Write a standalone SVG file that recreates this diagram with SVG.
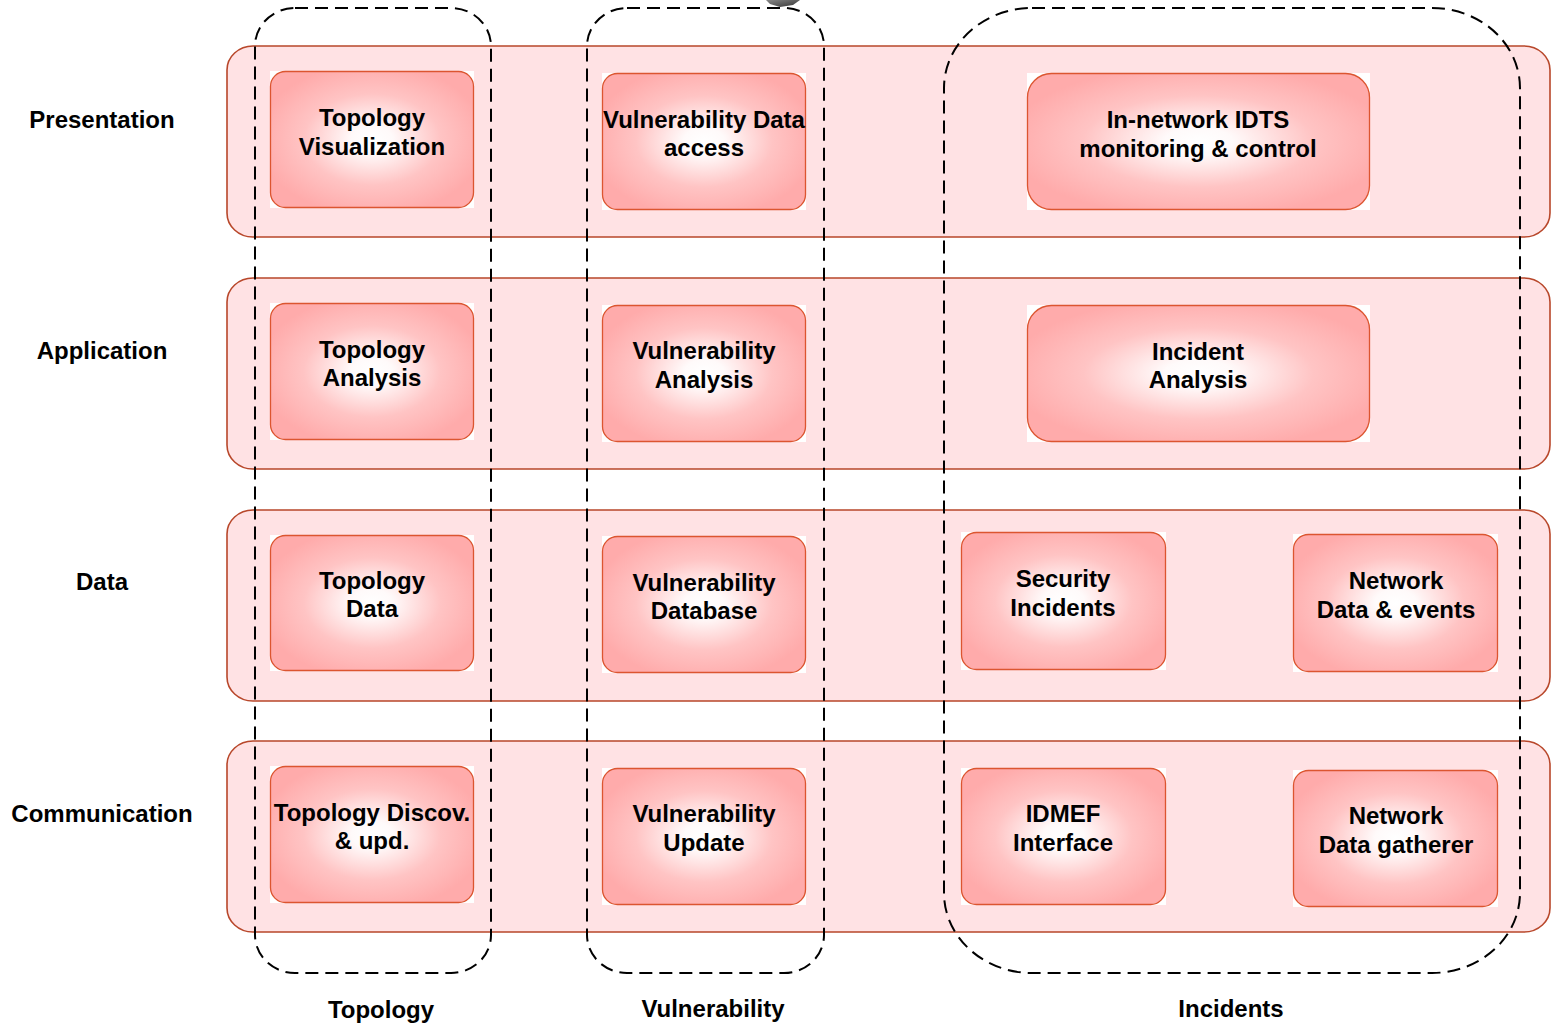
<svg xmlns="http://www.w3.org/2000/svg" width="1551" height="1023" viewBox="0 0 1551 1023">
<defs>
<radialGradient id="ng" cx="0.5" cy="0.5" r="0.56">
<stop offset="0" stop-color="#ffffff"/>
<stop offset="0.18" stop-color="#fffafa"/>
<stop offset="0.6" stop-color="#ffc4c4"/>
<stop offset="1" stop-color="#ffabab"/>
</radialGradient>
<linearGradient id="gb" x1="0" y1="0" x2="1" y2="1">
<stop offset="0" stop-color="#888"/>
<stop offset="1" stop-color="#333"/>
</linearGradient>
</defs>
<style>
.layer{fill:#ffe2e4;stroke:#b8472a;stroke-width:1.6}
.grp{fill:none;stroke:#000;stroke-width:2;stroke-dasharray:13 7}
.nbg{fill:#fff}
.nd{fill:url(#ng);stroke:#dc5530;stroke-width:1.3}
text{font-family:"Liberation Sans",Arial,sans-serif;font-weight:bold;font-size:24px;fill:#000;text-anchor:middle}
</style>
<rect width="1551" height="1023" fill="#fff"/>
<path d="M766,0 L800,0 L793,5 L780,7 L770,4 Z" fill="url(#gb)"/>
<g id="layers">
<g id="layer-presentation"><rect class="layer" x="227" y="46" width="1323" height="191" rx="26" ry="24"/><text x="102" y="128">Presentation</text></g>
<g id="layer-application"><rect class="layer" x="227" y="278" width="1323" height="191" rx="26" ry="24"/><text x="102" y="359">Application</text></g>
<g id="layer-data"><rect class="layer" x="227" y="510" width="1323" height="191" rx="26" ry="24"/><text x="102" y="590">Data</text></g>
<g id="layer-communication"><rect class="layer" x="227" y="741" width="1323" height="191" rx="26" ry="24"/><text x="102" y="822">Communication</text></g>
</g>
<g id="groups">
<g id="grp-topology"><rect class="grp" x="255" y="8" width="236" height="965" rx="40" ry="38"/><text x="381" y="1018">Topology</text></g>
<g id="grp-vulnerability"><rect class="grp" x="587" y="8" width="237" height="965" rx="40" ry="38"/><text x="713" y="1017">Vulnerability</text></g>
<g id="grp-incidents"><rect class="grp" x="944" y="8" width="576" height="965" rx="88" ry="80"/><text x="1231" y="1017">Incidents</text></g>
</g>
<g id="connectors"></g>
<g id="n-topo-vis"><rect class="nbg" x="270" y="71" width="204" height="137"/><rect class="nd" x="270.5" y="71.5" width="203" height="136" rx="15"/><text x="372" y="126">Topology</text><text x="372" y="155">Visualization</text></g>
<g id="n-topo-ana"><rect class="nbg" x="270" y="303" width="204" height="137"/><rect class="nd" x="270.5" y="303.5" width="203" height="136" rx="15"/><text x="372" y="358">Topology</text><text x="372" y="386">Analysis</text></g>
<g id="n-topo-data"><rect class="nbg" x="270" y="535" width="204" height="136"/><rect class="nd" x="270.5" y="535.5" width="203" height="135" rx="15"/><text x="372" y="589">Topology</text><text x="372" y="617">Data</text></g>
<g id="n-topo-disc"><rect class="nbg" x="270" y="766" width="204" height="137"/><rect class="nd" x="270.5" y="766.5" width="203" height="136" rx="15"/><text x="372" y="821">Topology Discov.</text><text x="372" y="849">&amp; upd.</text></g>
<g id="n-vul-access"><rect class="nbg" x="602" y="73" width="204" height="137"/><rect class="nd" x="602.5" y="73.5" width="203" height="136" rx="15"/><text x="704" y="128">Vulnerability Data</text><text x="704" y="156">access</text></g>
<g id="n-vul-ana"><rect class="nbg" x="602" y="305" width="204" height="137"/><rect class="nd" x="602.5" y="305.5" width="203" height="136" rx="15"/><text x="704" y="359">Vulnerability</text><text x="704" y="388">Analysis</text></g>
<g id="n-vul-db"><rect class="nbg" x="602" y="536" width="204" height="137"/><rect class="nd" x="602.5" y="536.5" width="203" height="136" rx="15"/><text x="704" y="591">Vulnerability</text><text x="704" y="619">Database</text></g>
<g id="n-vul-upd"><rect class="nbg" x="602" y="768" width="204" height="137"/><rect class="nd" x="602.5" y="768.5" width="203" height="136" rx="15"/><text x="704" y="822">Vulnerability</text><text x="704" y="851">Update</text></g>
<g id="n-idts"><rect class="nbg" x="1027" y="73" width="343" height="137"/><rect class="nd" x="1027.5" y="73.5" width="342" height="136" rx="24"/><text x="1198" y="128">In-network IDTS</text><text x="1198" y="157">monitoring &amp; control</text></g>
<g id="n-inc-ana"><rect class="nbg" x="1027" y="305" width="343" height="137"/><rect class="nd" x="1027.5" y="305.5" width="342" height="136" rx="24"/><text x="1198" y="360">Incident</text><text x="1198" y="388">Analysis</text></g>
<g id="n-sec-inc"><rect class="nbg" x="961" y="532" width="205" height="138"/><rect class="nd" x="961.5" y="532.5" width="204" height="137" rx="15"/><text x="1063" y="587">Security</text><text x="1063" y="616">Incidents</text></g>
<g id="n-net-data"><rect class="nbg" x="1293" y="534" width="205" height="138"/><rect class="nd" x="1293.5" y="534.5" width="204" height="137" rx="15"/><text x="1396" y="589">Network</text><text x="1396" y="618">Data &amp; events</text></g>
<g id="n-idmef"><rect class="nbg" x="961" y="768" width="205" height="137"/><rect class="nd" x="961.5" y="768.5" width="204" height="136" rx="15"/><text x="1063" y="822">IDMEF</text><text x="1063" y="851">Interface</text></g>
<g id="n-net-gath"><rect class="nbg" x="1293" y="770" width="205" height="137"/><rect class="nd" x="1293.5" y="770.5" width="204" height="136" rx="15"/><text x="1396" y="824">Network</text><text x="1396" y="853">Data gatherer</text></g>
</svg>
